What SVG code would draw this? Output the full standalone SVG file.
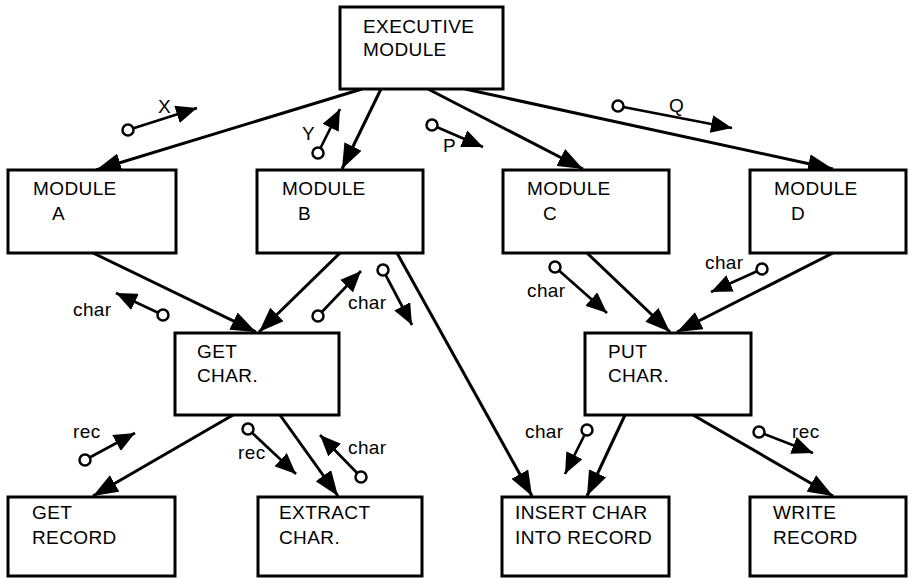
<svg xmlns="http://www.w3.org/2000/svg" width="909" height="578" viewBox="0 0 909 578">
<style>
.box{fill:#fff;stroke:#000;stroke-width:3}
.t{font-family:"Liberation Sans",Arial,sans-serif;font-size:19px;fill:#000;letter-spacing:0.4px}
.c{stroke:#000;stroke-width:3;fill:none;marker-end:url(#ah)}
.dc{stroke:#000;stroke-width:2.7;fill:none;marker-end:url(#sa)}
.o{fill:#fff;stroke:#000;stroke-width:2.5}
</style>
<defs>
<marker id="ah" markerUnits="userSpaceOnUse" markerWidth="25" markerHeight="19" refX="25" refY="9.5" orient="auto">
<path d="M0,0 L25,9.5 L0,19 Z" fill="#000"/>
</marker>
<marker id="sa" markerUnits="userSpaceOnUse" markerWidth="21" markerHeight="18" refX="21" refY="9" orient="auto">
<path d="M0,0 L21,9 L0,18 Z" fill="#000"/>
</marker>
</defs>
<rect width="909" height="578" fill="#fff"/>
<g id="connectors">
<line class="c" x1="362" y1="89" x2="96" y2="170"/>
<line class="c" x1="381" y1="89" x2="342" y2="169"/>
<line class="c" x1="428" y1="89" x2="583" y2="169"/>
<line class="c" x1="465" y1="89" x2="833" y2="169"/>
<line class="c" x1="93" y1="253" x2="256" y2="332"/>
<line class="c" x1="340" y1="253" x2="259" y2="332"/>
<line class="c" x1="397" y1="253" x2="532" y2="496"/>
<line class="c" x1="587" y1="253" x2="670" y2="332"/>
<line class="c" x1="833" y1="253" x2="677" y2="332"/>
<line class="c" x1="233" y1="415" x2="93" y2="496"/>
<line class="c" x1="280" y1="415" x2="338" y2="496"/>
<line class="c" x1="625" y1="415" x2="587" y2="496"/>
<line class="c" x1="693" y1="415" x2="833" y2="496"/>
</g>
<g id="couples">
<line class="dc" x1="128" y1="130" x2="197" y2="108"/><circle class="o" cx="128" cy="130" r="5.5"/>
<line class="dc" x1="318" y1="153" x2="340" y2="109"/><circle class="o" cx="318" cy="153" r="5.5"/>
<line class="dc" x1="432" y1="125" x2="483" y2="147"/><circle class="o" cx="432" cy="125" r="5.5"/>
<line class="dc" x1="618" y1="106" x2="732" y2="128"/><circle class="o" cx="618" cy="106" r="5.5"/>
<line class="dc" x1="163" y1="315" x2="116" y2="293"/><circle class="o" cx="163" cy="315" r="5.5"/>
<line class="dc" x1="318" y1="316" x2="361" y2="271"/><circle class="o" cx="318" cy="316" r="5.5"/>
<line class="dc" x1="383" y1="270" x2="412" y2="325"/><circle class="o" cx="383" cy="270" r="5.5"/>
<line class="dc" x1="555" y1="267" x2="607" y2="313"/><circle class="o" cx="555" cy="267" r="5.5"/>
<line class="dc" x1="762" y1="269" x2="711" y2="292"/><circle class="o" cx="762" cy="269" r="5.5"/>
<line class="dc" x1="85" y1="460" x2="135" y2="433"/><circle class="o" cx="85" cy="460" r="5.5"/>
<line class="dc" x1="248" y1="429" x2="296" y2="474"/><circle class="o" cx="248" cy="429" r="5.5"/>
<line class="dc" x1="361" y1="477" x2="320" y2="435"/><circle class="o" cx="361" cy="477" r="5.5"/>
<line class="dc" x1="587" y1="430" x2="565" y2="474"/><circle class="o" cx="587" cy="430" r="5.5"/>
<line class="dc" x1="759" y1="432" x2="813" y2="453"/><circle class="o" cx="759" cy="432" r="5.5"/>
<text class="t" x="158" y="113">X</text>
<text class="t" x="302" y="140">Y</text>
<text class="t" x="443" y="152">P</text>
<text class="t" x="669" y="112">Q</text>
<text class="t" x="73" y="316">char</text>
<text class="t" x="348" y="309">char</text>
<text class="t" x="527" y="297">char</text>
<text class="t" x="705" y="269">char</text>
<text class="t" x="73" y="438">rec</text>
<text class="t" x="238" y="459">rec</text>
<text class="t" x="348" y="454">char</text>
<text class="t" x="525" y="438">char</text>
<text class="t" x="792" y="438">rec</text>
</g>
<g id="exec"><rect class="box" x="340" y="7" width="163" height="82"/><text class="t" x="363" y="33">EXECUTIVE</text><text class="t" x="363" y="56">MODULE</text></g>
<g id="modA"><rect class="box" x="8" y="170" width="168" height="83"/><text class="t" x="33" y="195">MODULE</text><text class="t" x="52" y="220">A</text></g>
<g id="modB"><rect class="box" x="257" y="170" width="166" height="83"/><text class="t" x="282" y="195">MODULE</text><text class="t" x="298" y="220">B</text></g>
<g id="modC"><rect class="box" x="503" y="170" width="166" height="83"/><text class="t" x="527" y="195">MODULE</text><text class="t" x="543" y="220">C</text></g>
<g id="modD"><rect class="box" x="750" y="170" width="156" height="83"/><text class="t" x="774" y="195">MODULE</text><text class="t" x="791" y="220">D</text></g>
<g id="getchar"><rect class="box" x="175" y="333" width="164" height="82"/><text class="t" x="197" y="358">GET</text><text class="t" x="197" y="382">CHAR.</text></g>
<g id="putchar"><rect class="box" x="585" y="333" width="166" height="82"/><text class="t" x="608" y="358">PUT</text><text class="t" x="608" y="382">CHAR.</text></g>
<g id="getrecord"><rect class="box" x="8" y="497" width="167" height="79"/><text class="t" x="32" y="519">GET</text><text class="t" x="32" y="544">RECORD</text></g>
<g id="extract"><rect class="box" x="258" y="497" width="164" height="79"/><text class="t" x="279" y="519">EXTRACT</text><text class="t" x="279" y="544">CHAR.</text></g>
<g id="insert"><rect class="box" x="502" y="497" width="167" height="79"/><text class="t" x="515" y="519">INSERT CHAR</text><text class="t" x="515" y="544">INTO RECORD</text></g>
<g id="write"><rect class="box" x="750" y="497" width="156" height="79"/><text class="t" x="773" y="519">WRITE</text><text class="t" x="773" y="544">RECORD</text></g>
</svg>
